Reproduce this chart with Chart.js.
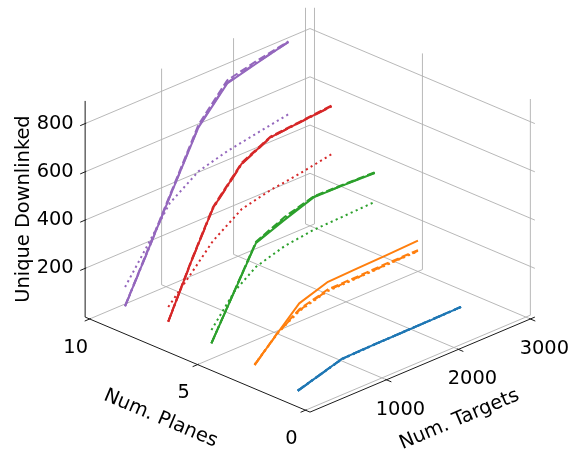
<!DOCTYPE html>
<html>
<head>
<meta charset="utf-8">
<script src="https://cdn.jsdelivr.net/npm/chart.js@4/dist/chart.umd.min.js"></script>
<style>
    html, body { margin: 0; padding: 0; background: #fff; }
</style>
</head>
<body>
<canvas id="myChart" width="586" height="461"></canvas>
<script>
"use strict";

// axis limits and ticks
var targetLimits = [0, 3000];
var planeLimits = [0, 10];
var targetTicks = [1000, 2000, 3000];
var planeTicks = [0, 5, 10];
var downlinkTicks = [200, 400, 600, 800];

// sampled number of targets, shared by every curve
var numTargets = [130, 450, 750, 1150, 1550, 1950, 2400];
var numPlanes = [1, 3, 5, 7, 9];

// unique downlinked per plane count; rows: solid, dashed, dash-dot, dotted
var downlinked1 = [
    [16, 45, 72, 74, 75, 76, 78],
    [17, 46, 71, 74, 76, 77, 79],
    [16, 44, 72, 75, 75, 77, 78],
    [18, 45, 70, 73, 75, 76, 77]
];
var downlinked3 = [
    [48, 140, 225, 264, 268, 272, 277],
    [48, 142, 200, 233, 234, 237, 238],
    [47, 140, 196, 229, 230, 233, 235],
    [50, 138, 193, 226, 228, 231, 233]
];
var downlinked5 = [
    [62, 237, 400, 446, 488, 486, 482],
    [62, 240, 405, 458, 492, 489, 485],
    [63, 238, 402, 452, 490, 487, 483],
    [117, 237, 301, 337, 353, 357, 362]
];
var downlinked7 = [
    [76, 286, 468, 602, 661, 672, 683],
    [77, 289, 472, 606, 664, 674, 686],
    [75, 284, 466, 600, 660, 671, 682],
    [137, 236, 332, 414, 442, 459, 484]
];
var downlinked9 = [
    [65, 257, 438, 677, 809, 840, 874],
    [66, 262, 445, 688, 822, 850, 876],
    [64, 255, 440, 680, 812, 843, 873],
    [144, 281, 413, 495, 528, 550, 574]
];

(function () {
    var W = 586, H = 461;
    var FONT = "19.4px 'DejaVu Sans'";
    var lineColors = ["#1f77b4", "#ff7f0e", "#2ca02c", "#d62728", "#9467bd"];
    var dashPatterns = [[], [7.7, 3.3], [13.3, 3.3, 2.1, 3.3], [2.1, 3.4]];
    var seriesValues = [downlinked1, downlinked3, downlinked5, downlinked7, downlinked9];

    // orthographic view of a 4:4:3 box
    var ELEV = 25, AZIM = -135;
    var BOX = [4, 4, 3];
    var SCALE = 79.5, CENTER_X = 310, CENTER_Y = 209;

    var flat = [];
    seriesValues.forEach(function (rows) {
        rows.forEach(function (r) { flat = flat.concat(r); });
    });
    var zLimits = [Math.min.apply(null, flat), Math.max.apply(null, flat)];

    function padded(lim) {
        var d = (lim[1] - lim[0]) / 48;
        return [lim[0] - d, lim[1] + d];
    }
    var xb = padded(targetLimits);
    var yb = padded(planeLimits);
    var zb = padded(zLimits);

    var e = ELEV * Math.PI / 180, a = AZIM * Math.PI / 180;

    function project(t, p, z) {
        var X = BOX[0] * ((t - xb[0]) / (xb[1] - xb[0]) - 0.5);
        var Y = BOX[1] * ((p - yb[0]) / (yb[1] - yb[0]) - 0.5);
        var Z = BOX[2] * ((z - zb[0]) / (zb[1] - zb[0]) - 0.5);
        var h = -Math.sin(a) * X + Math.cos(a) * Y;
        var v = -Math.sin(e) * (Math.cos(a) * X + Math.sin(a) * Y) + Math.cos(e) * Z;
        return { x: CENTER_X + SCALE * h, y: CENTER_Y - SCALE * v };
    }

    var datasets = [];
    function addLine(points, color, width, dash, order) {
        datasets.push({
            data: points,
            showLine: true,
            borderColor: color,
            borderWidth: width,
            borderDash: dash,
            borderCapStyle: "butt",
            borderJoinStyle: "round",
            pointRadius: 0,
            tension: 0,
            clip: false,
            order: order
        });
    }

    // pane grid
    var GRID = "#b0b0b0";
    targetTicks.forEach(function (t) {
        addLine([project(t, yb[0], zb[0]), project(t, yb[1], zb[0]), project(t, yb[1], zb[1])], GRID, 0.9, [], 3);
    });
    planeTicks.forEach(function (p) {
        addLine([project(xb[0], p, zb[0]), project(xb[1], p, zb[0]), project(xb[1], p, zb[1])], GRID, 0.9, [], 3);
    });
    downlinkTicks.forEach(function (z) {
        addLine([project(xb[0], yb[1], z), project(xb[1], yb[1], z), project(xb[1], yb[0], z)], GRID, 0.9, [], 3);
    });

    // axis lines and tick marks
    var AXIS = "#1a1a1a";
    addLine([project(xb[0], yb[0], zb[0]), project(xb[1], yb[0], zb[0])], AXIS, 1, [], 2);
    addLine([project(xb[0], yb[0], zb[0]), project(xb[0], yb[1], zb[0])], AXIS, 1, [], 2);
    addLine([project(xb[0], yb[1], zb[0]), project(xb[0], yb[1], zb[1])], AXIS, 1, [], 2);
    var dy = yb[1] - yb[0], dx = xb[1] - xb[0];
    targetTicks.forEach(function (t) {
        addLine([project(t, yb[0] + 0.005 * dy, zb[0]), project(t, yb[0] - 0.022 * dy, zb[0])], AXIS, 1, [], 2);
    });
    planeTicks.forEach(function (p) {
        addLine([project(xb[0] + 0.005 * dx, p, zb[0]), project(xb[0] - 0.022 * dx, p, zb[0])], AXIS, 1, [], 2);
    });
    downlinkTicks.forEach(function (z) {
        addLine([project(xb[0] + 0.005 * dx, yb[1], z), project(xb[0] - 0.022 * dx, yb[1], z)], AXIS, 1, [], 2);
    });

    // curves, one per plane count and line style
    seriesValues.forEach(function (rows, i) {
        rows.forEach(function (values, k) {
            var pts = values.map(function (z, j) { return project(numTargets[j], numPlanes[i], z); });
            addLine(pts, lineColors[i], 2, dashPatterns[k], 0);
        });
    });

    var axisText = {
        id: "axisText",
        afterDraw: function (chart) {
            var ctx = chart.ctx;
            var sx = chart.scales.x, sy = chart.scales.y;
            function at(pt, ox, oy) {
                return [sx.getPixelForValue(pt.x) + ox, sy.getPixelForValue(pt.y) + oy];
            }
            function angleOf(p0, p1) {
                var q0 = at(p0, 0, 0), q1 = at(p1, 0, 0);
                return Math.atan2(q1[1] - q0[1], q1[0] - q0[0]);
            }
            function rotated(text, q, ang) {
                ctx.save();
                ctx.translate(q[0], q[1]);
                ctx.rotate(ang);
                ctx.fillText(text, 0, 0);
                ctx.restore();
            }
            ctx.save();
            ctx.fillStyle = "#000";
            ctx.font = FONT;
            ctx.textAlign = "center";
            ctx.textBaseline = "middle";
            targetTicks.forEach(function (t) {
                var q = at(project(t, yb[0], zb[0]), 14, 30);
                ctx.fillText(String(t), q[0], q[1]);
            });
            planeTicks.forEach(function (p) {
                var q = at(project(xb[0], p, zb[0]), -14, 28.5);
                ctx.fillText(String(p), q[0], q[1]);
            });
            downlinkTicks.forEach(function (z) {
                var q = at(project(xb[0], yb[1], z), -30, 0);
                ctx.fillText(String(z), q[0], q[1]);
            });

            var midT = (xb[0] + xb[1]) / 2, midP = (yb[0] + yb[1]) / 2, midZ = (zb[0] + zb[1]) / 2;
            rotated("Num. Targets", at(project(midT, yb[0], zb[0]), 37, 55),
                angleOf(project(xb[0], yb[0], zb[0]), project(xb[1], yb[0], zb[0])));
            rotated("Num. Planes", at(project(xb[0], midP, zb[0]), -37, 54),
                angleOf(project(xb[0], yb[1], zb[0]), project(xb[0], yb[0], zb[0])));
            rotated("Unique Downlinked", at(project(xb[0], yb[1], midZ), -61, 0), -Math.PI / 2);
            ctx.restore();
        }
    };

    new Chart(document.getElementById("myChart"), {
        type: "scatter",
        data: { datasets: datasets },
        options: {
            responsive: false,
            animation: false,
            devicePixelRatio: 1,
            events: [],
            layout: { padding: 0, autoPadding: false },
            plugins: { legend: { display: false }, tooltip: { enabled: false } },
            scales: {
                x: { type: "linear", min: 0, max: W, display: false },
                y: { type: "linear", min: 0, max: H, reverse: true, display: false }
            }
        },
        plugins: [axisText]
    });
})();
</script>
</body>
</html>
